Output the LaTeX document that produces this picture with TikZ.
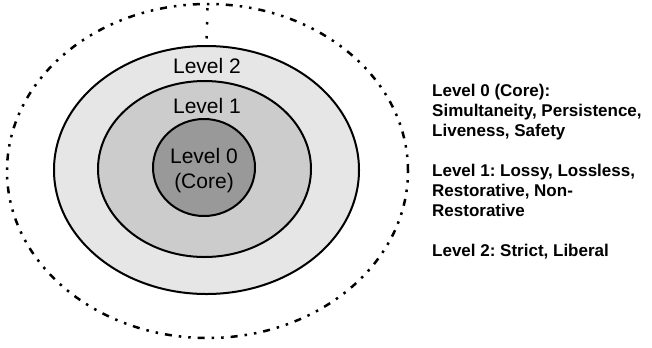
\documentclass[tikz,border=0pt]{standalone}
\usepackage{fontspec}
\setmainfont{Liberation Sans}
\usepackage{tikz}
\usetikzlibrary{shapes.geometric,calc}
\definecolor{ink}{HTML}{000000}
\definecolor{ringouter}{HTML}{E6E6E6}
\definecolor{ringmid}{HTML}{CCCCCC}
\definecolor{ringcore}{HTML}{999999}
\tikzset{
  lvlring/.style={ellipse,draw=ink,line width=2bp,inner sep=0pt,outer sep=0pt},
  scopering/.style={ellipse,draw=ink,line width=2.5bp,inner sep=0pt,outer sep=0pt,
    dash pattern=on 7bp off 7bp on 2.5bp off 7bp on 2.5bp off 7bp},
  lvllabel/.style={font=\fontsize{21bp}{25bp}\selectfont,text=ink,align=center,inner sep=0pt},
  desctext/.style={font=\fontsize{17bp}{20bp}\selectfont\bfseries\frenchspacing,text=ink,align=left,inner sep=0pt},
  dotline/.style={line width=2.5bp,dash pattern=on 2.5bp off 11.5bp,color=ink},
}

\begin{document}
\begin{tikzpicture}[x=1bp,y=-1bp]
  \useasboundingbox (0,0) rectangle (652,347);

  \node[scopering,minimum width=401bp,minimum height=334bp] (scope) at (207.5,171) {};
  \node[lvlring,fill=ringouter,minimum width=305bp,minimum height=248bp] (lvtwo) at (206.5,170) {};
  \node[lvlring,fill=ringmid,minimum width=213bp,minimum height=176bp] (lvone) at (204.5,169) {};
  \node[lvlring,fill=ringcore,minimum width=102bp,minimum height=97bp] (lvzero) at (204,167.5) {};

  \node[lvllabel,anchor=base] (lbtwo) at (207,73) {Level 2};
  \node[lvllabel,anchor=base] (lbone) at (207,113) {Level 1};
  \node[lvllabel,anchor=base] (lbzero) at (204,163) {Level 0};
  \node[lvllabel,anchor=base] (lbcore) at (204,188) {(Core)};

  \coordinate (dtop) at ($(scope.north)+(0,4)$);
  \coordinate (dbot) at ($(lvtwo.north)+(0,-6)$);
  \draw[dotline] (dtop) -- (dbot);

  \node[desctext,anchor=north west] (desc) at (432,83.5) {%
    Level 0 (Core):\\
    Simultaneity, Persistence,\\
    Liveness, Safety\\[20bp]
    Level 1: Lossy, Lossless,\\
    Restorative, Non-\\
    Restorative\\[20bp]
    Level 2: Strict, Liberal};
\end{tikzpicture}
\end{document}
